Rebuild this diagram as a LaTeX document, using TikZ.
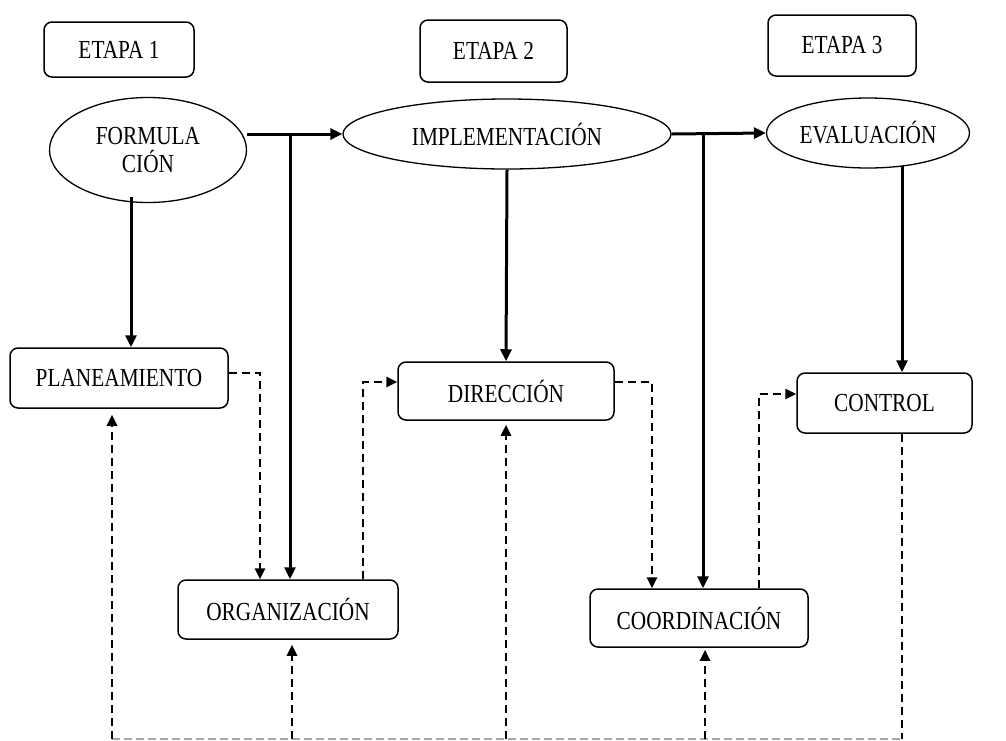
\documentclass[tikz,border=0pt]{standalone}
\usepackage{fontspec}
\setmainfont{Liberation Serif}[FakeStretch=0.82]
\usetikzlibrary{arrows.meta,shapes.geometric}
\begin{document}
\begin{tikzpicture}[x=1pt,y=-1pt,
  every node/.style={font=\fontsize{26}{28}\selectfont, inner sep=0pt},
  box/.style={draw, rounded corners=8pt, line width=1.5pt},
  ell/.style={draw, ellipse, line width=1.3pt, align=center},
  solidarrow/.style={line width=3pt, -{Triangle[length=12pt,width=11pt]}},
  dasharrow/.style={line width=2.5pt, dash pattern=on 8pt off 5pt, -{Triangle[length=11pt,width=10pt]}},
  dashline/.style={line width=2.5pt, dash pattern=on 8pt off 5pt},
  baseline/.style={line width=1.2pt, gray!70, dash pattern=on 8pt off 4pt}]
\useasboundingbox (0,0) rectangle (1006,740);

% stage labels
\node[box, minimum width=150pt, minimum height=55pt] (e1) at (119,49.5) {ETAPA 1};
\node[box, minimum width=147pt, minimum height=62pt] (e2) at (493.5,51) {ETAPA 2};
\node[box, minimum width=148pt, minimum height=61pt] (e3) at (842,45.5) {ETAPA 3};

% ellipses
\node[ell, minimum width=197pt, minimum height=105pt] (F) at (148,150) {FORMULA\\CIÓN};
\node[ell, minimum width=328pt, minimum height=70pt] (I) at (507,134) {IMPLEMENTACIÓN};
\node[ell, minimum width=203pt, minimum height=70pt] (E) at (868,133) {EVALUACIÓN};

% boxes
\node[box, minimum width=218pt, minimum height=60pt] (P) at (119,378) {PLANEAMIENTO};
\node[box, minimum width=216pt, minimum height=58pt] (D) at (506,391) {DIRECCIÓN};
\node[box, minimum width=175pt, minimum height=60pt] (CT) at (884.5,403) {CONTROL};
\node[box, minimum width=220pt, minimum height=59pt] (O) at (288,609.5) {ORGANIZACIÓN};
\node[box, minimum width=218pt, minimum height=58pt] (C) at (699,618) {COORDINACIÓN};

% helper coordinates
\coordinate (j1) at (290,134);
\coordinate (j2) at (703,134);
\coordinate (fs) at (131,197);
\coordinate (es) at (902,166);
\coordinate (b1) at (112,739);
\coordinate (b2) at (292,739);
\coordinate (b3) at (506,739);
\coordinate (b4) at (705,739);
\coordinate (b5) at (902,739);

% solid connectors
\draw[solidarrow] (F.east |- I.west) -- (I.west);
\draw[solidarrow] (j1) -- (j1 |- O.north);
\draw[solidarrow] (I.east) -- (E.west);
\draw[solidarrow] (j2) -- (j2 |- C.north);
\draw[solidarrow] (fs) -- (fs |- P.north);
\draw[solidarrow] (I.south) -- (D.north);
\draw[solidarrow] (es) -- (es |- CT.north);

% dashed connectors between boxes
\draw[dasharrow] ([yshift=5pt]P.east) -| ([xshift=-28pt]O.north);
\draw[dasharrow] ([xshift=75pt]O.north) |- ([yshift=9pt]D.west);
\draw[dasharrow] ([yshift=9pt]D.east) -| ([xshift=-47pt]C.north);
\draw[dasharrow] ([xshift=60pt]C.north) |- ([yshift=9pt]CT.west);

% bottom feedback
\draw[baseline] (b1) -- (b5);
\draw[dasharrow, shorten >=6pt] (b1) -- (b1 |- P.south);
\draw[dasharrow, shorten >=5pt] (b2) -- (b2 |- O.south);
\draw[dasharrow, shorten >=4pt] (b3) -- (b3 |- D.south);
\draw[dasharrow, shorten >=2pt] (b4) -- (b4 |- C.south);
\draw[dashline] (CT.south -| b5) -- (b5);
\end{tikzpicture}
\end{document}
